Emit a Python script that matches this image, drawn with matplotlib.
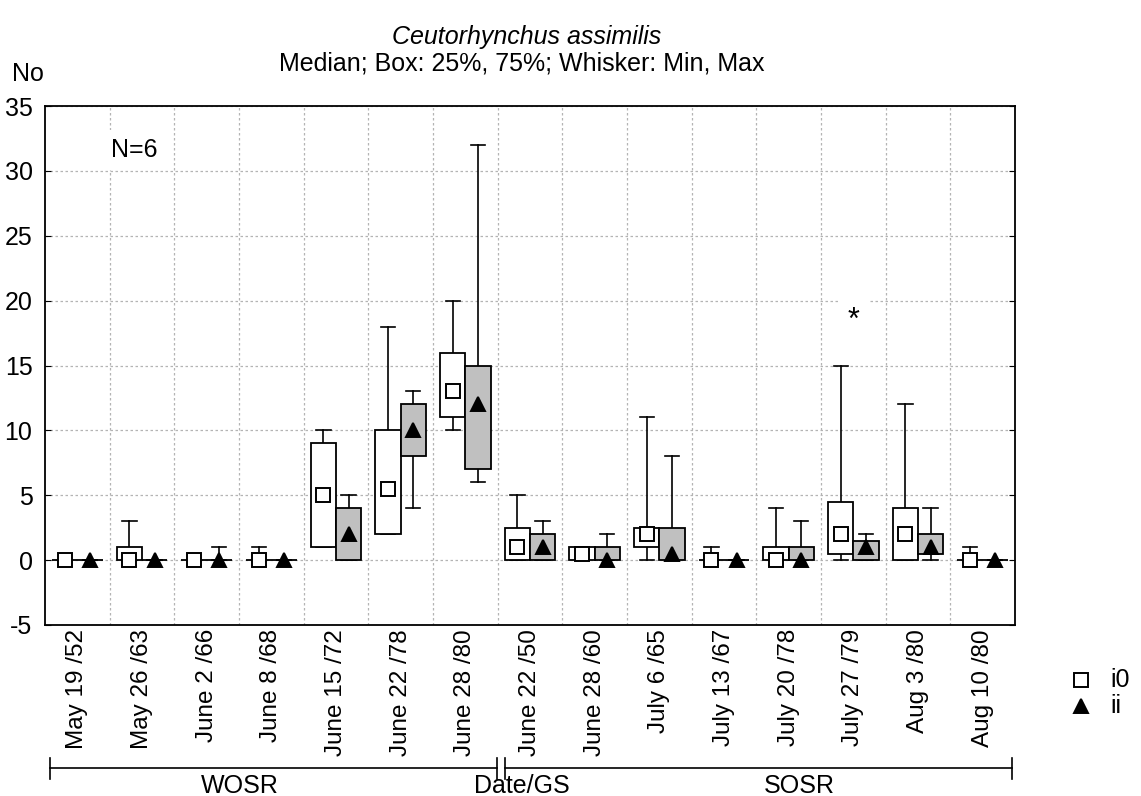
import matplotlib
matplotlib.use("Agg")
import matplotlib.pyplot as plt
from matplotlib.patches import Rectangle
from matplotlib.lines import Line2D
import numpy as np

plt.rcParams['font.family'] = ['Liberation Sans', 'DejaVu Sans']
plt.rcParams['axes.unicode_minus'] = False

# Sampling dates / growth stage
dates = ["May 19 /52", "May 26 /63", "June 2 /66", "June 8 /68", "June 15 /72",
         "June 22 /78", "June 28 /80", "June 22 /50", "June 28 /60", "July 6 /65",
         "July 13 /67", "July 20 /78", "July 27 /79", "Aug 3 /80", "Aug 10 /80"]

# i0: median, quartiles, min, max
i0_med = [0, 0, 0, 0, 5, 5.5, 13, 1, 0.5, 2, 0, 0, 2, 2, 0]
i0_q1 = [0, 0, 0, 0, 1, 2, 11, 0, 0, 1, 0, 0, 0.5, 0, 0]
i0_q3 = [0, 1, 0, 0, 9, 10, 16, 2.5, 1, 2.5, 0, 1, 4.5, 4, 0]
i0_min = [0, 0, 0, 0, 1, 2, 10, 0, 0, 0, 0, 0, 0, 0, 0]
i0_max = [0, 3, 0, 1, 10, 18, 20, 5, 1, 11, 1, 4, 15, 12, 1]

# ii: median, quartiles, min, max
ii_med = [0, 0, 0, 0, 2, 10, 12, 1, 0, 0.5, 0, 0, 1, 1, 0]
ii_q1 = [0, 0, 0, 0, 0, 8, 7, 0, 0, 0, 0, 0, 0, 0.5, 0]
ii_q3 = [0, 0, 0, 0, 4, 12, 15, 2, 1, 2.5, 0, 1, 1.5, 2, 0]
ii_min = [0, 0, 0, 0, 0, 4, 6, 0, 0, 0, 0, 0, 0, 0, 0]
ii_max = [0, 0, 1, 0, 5, 13, 32, 3, 2, 8, 0, 3, 2, 4, 0]

FS = 18
W, H = 1141, 796
fig = plt.figure(figsize=(W / 100, H / 100), dpi=100)
ax = fig.add_axes([45 / W, 1 - 625 / H, 970 / W, 519 / H])

x = np.arange(len(dates))
box_w = 0.39
cap_w = 0.22


def draw_group(offset, med, q1, q3, lo, hi, face, marker, mface):
    for xi, m, a, b, mn, mx in zip(x, med, q1, q3, lo, hi):
        c = xi + offset
        ax.plot([c, c], [b, mx], color='black', lw=1.2, zorder=2)
        ax.plot([c, c], [mn, a], color='black', lw=1.2, zorder=2)
        ax.plot([c - cap_w / 2, c + cap_w / 2], [mx, mx], color='black', lw=1.2, zorder=2)
        ax.plot([c - cap_w / 2, c + cap_w / 2], [mn, mn], color='black', lw=1.2, zorder=2)
        ax.add_patch(Rectangle((c - box_w / 2, a), box_w, b - a, facecolor=face,
                               edgecolor='black', lw=1.3, zorder=3))
        ax.plot([c], [m], marker=marker, ms=10, mfc=mface, mec='black', mew=1.4,
                ls='none', zorder=4)


draw_group(-box_w / 2, i0_med, i0_q1, i0_q3, i0_min, i0_max, 'white', 's', 'white')
draw_group(box_w / 2, ii_med, ii_q1, ii_q3, ii_min, ii_max, '#c0c0c0', '^', 'black')

ax.set_xlim(-0.5, len(dates) - 0.5)
ax.set_ylim(-5, 35)
ax.set_yticks(np.arange(-5, 36, 5))
ax.set_xticks(x)
ax.set_xticklabels(dates, rotation=90, fontsize=17.5, va='top')
ax.set_xticks(x[:-1] + 0.5, minor=True)
ax.tick_params(axis='x', which='both', length=0, pad=3)
ax.tick_params(axis='y', direction='in', left=True, right=True, length=4,
               labelsize=FS, pad=9)
ax.grid(which='minor', axis='x', color='#b4b4b4', ls=(0, (2, 2)), lw=0.9)
ax.grid(which='major', axis='y', color='#b4b4b4', ls=(0, (2, 2)), lw=0.9)
ax.set_axisbelow(True)
for s in ax.spines.values():
    s.set_linewidth(1.3)

# significance mark and sample size
ax.text(12, 17.8, '*', ha='center', va='baseline', fontsize=FS + 4, zorder=5,
        bbox=dict(facecolor='white', edgecolor='none', pad=6))
ax.text(0.88, 31.6, 'N=6', ha='center', va='center', fontsize=FS, zorder=5,
        bbox=dict(facecolor='white', edgecolor='none', pad=6))

# titles
fig.text(527 / W, 1 - 37 / H, 'Ceutorhynchus assimilis', ha='center', va='center',
         fontsize=FS, style='italic')
fig.text(522 / W, 1 - 64 / H, 'Median; Box: 25%, 75%; Whisker: Min, Max', ha='center',
         va='center', fontsize=FS)
fig.text(28 / W, 1 - 74 / H, 'No', ha='center', va='center', fontsize=FS)

# crop brackets below the date labels
tr = ax.get_xaxis_transform()
yb = (625 - 768) / 519
yt0 = (625 - 758) / 519
yt1 = (625 - 779) / 519
for xs, ys in [([-0.42, 6.49], [yb, yb]), ([6.61, 14.45], [yb, yb]),
               ([-0.42, -0.42], [yt0, yt1]), ([6.49, 6.49], [yt0, yt1]),
               ([6.61, 6.61], [yt0, yt1]), ([14.45, 14.45], [yt0, yt1])]:
    ax.add_line(Line2D(xs, ys, color='black', lw=1.2, transform=tr, clip_on=False))
ax.text(2.52, (625 - 786) / 519, 'WOSR', transform=tr, ha='center', va='center', fontsize=FS)
ax.text(11.16, (625 - 786) / 519, 'SOSR', transform=tr, ha='center', va='center', fontsize=FS)
ax.text(6.87, (625 - 786) / 519, 'Date/GS', transform=tr, ha='center', va='center', fontsize=FS)

# legend
fig.add_artist(Line2D([1081 / W], [1 - 680 / H], marker='s', ms=10, mfc='white',
                      mec='black', mew=1.4, ls='none'))
fig.add_artist(Line2D([1081 / W], [1 - 706 / H], marker='^', ms=10, mfc='black',
                      mec='black', mew=1.4, ls='none'))
fig.text(1110 / W, 1 - 680 / H, 'i0', ha='left', va='center', fontsize=FS)
fig.text(1110 / W, 1 - 706 / H, 'ii', ha='left', va='center', fontsize=FS)

fig.savefig('out.png', dpi=100)
